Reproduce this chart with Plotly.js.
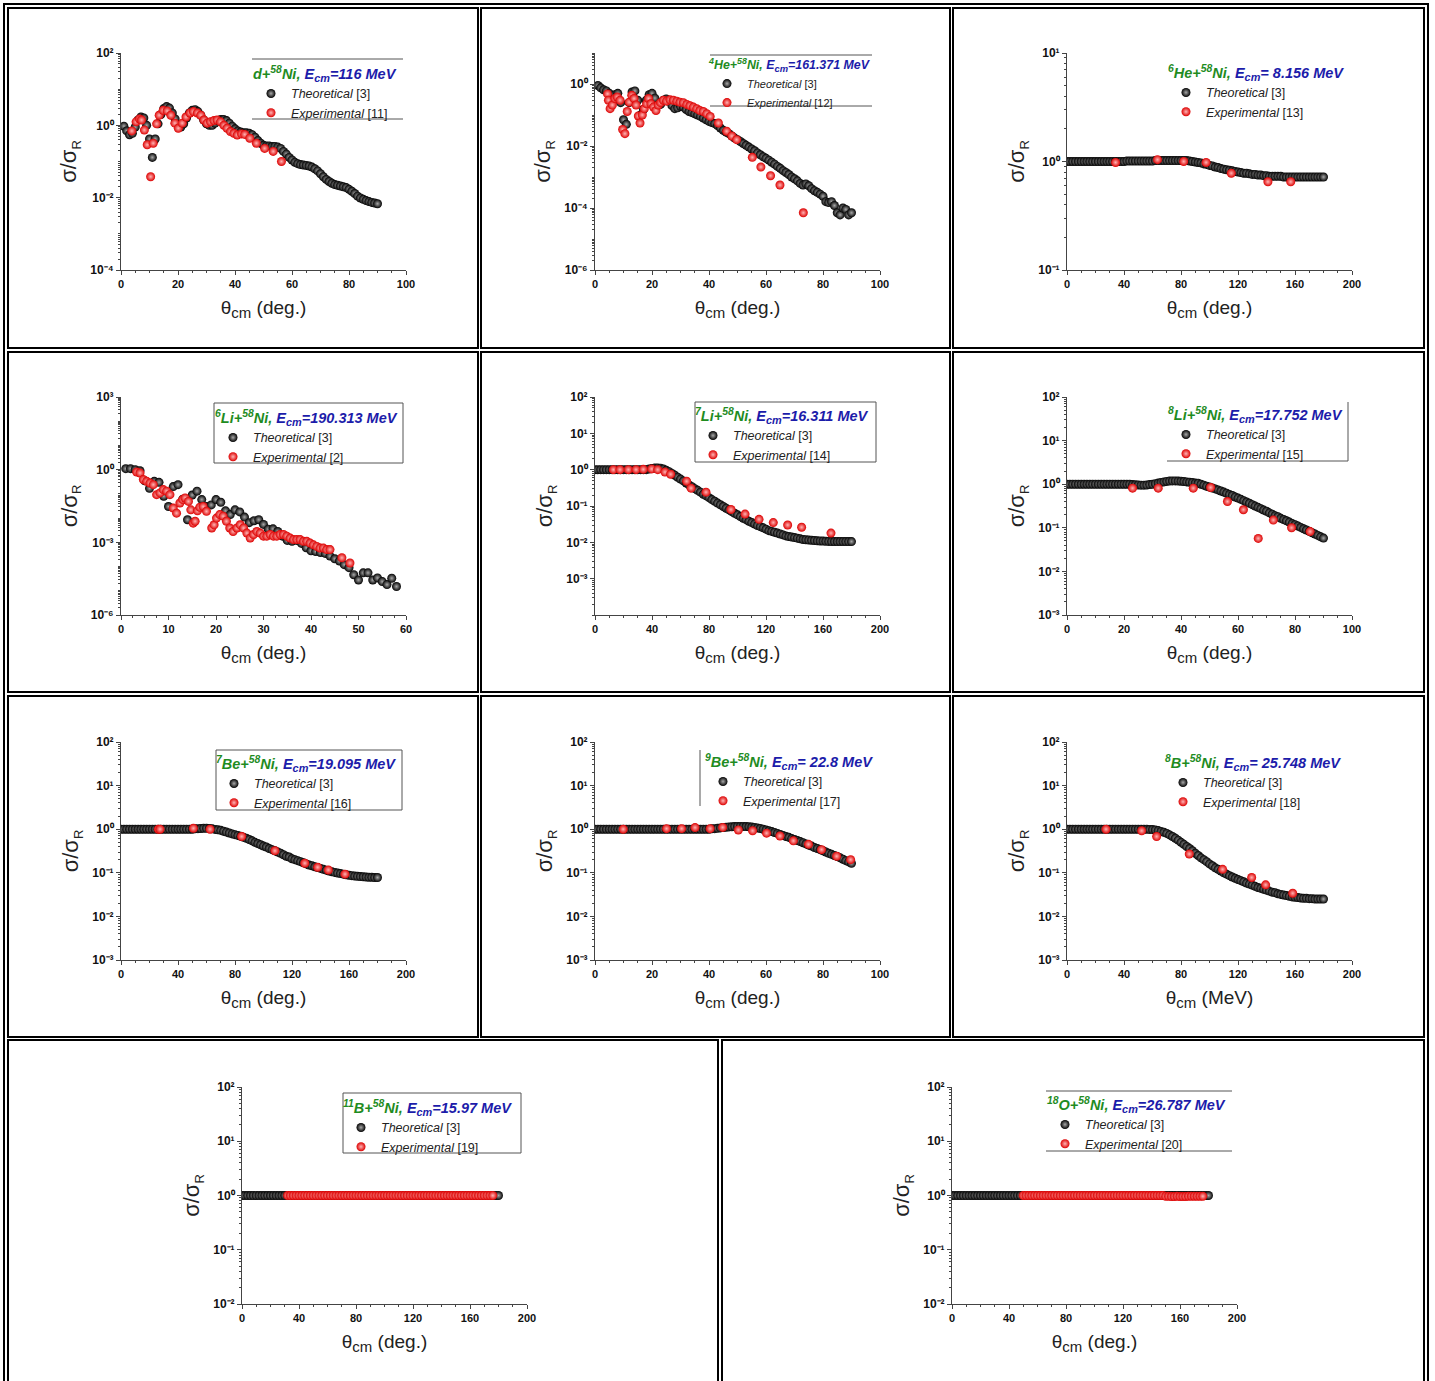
<!DOCTYPE html>
<html><head><meta charset="utf-8">
<script src="https://cdn.plot.ly/plotly-3.0.1.min.js"></script>
<style>html,body{margin:0;padding:0;background:#fff}#chart{width:1435px;height:1381px}</style>
</head><body><div id="chart"></div>
<script>
// ---------------- DATA ----------------
const THETA_1_90 = [1,2,3,4,5,6,7,8,9,10,11,12,13,14,15,16,17,18,19,20,21,22,23,24,25,26,27,28,29,30,31,32,33,34,35,36,37,38,39,40,41,42,43,44,45,46,47,48,49,50,51,52,53,54,55,56,57,58,59,60,61,62,63,64,65,66,67,68,69,70,71,72,73,74,75,76,77,78,79,80,81,82,83,84,85,86,87,88,89,90];
const THETA_0_90 = [0,1,2,3,4,5,6,7,8,9,10,11,12,13,14,15,16,17,18,19,20,21,22,23,24,25,26,27,28,29,30,31,32,33,34,35,36,37,38,39,40,41,42,43,44,45,46,47,48,49,50,51,52,53,54,55,56,57,58,59,60,61,62,63,64,65,66,67,68,69,70,71,72,73,74,75,76,77,78,79,80,81,82,83,84,85,86,87,88,89,90];
const THETA_0_180 = [0,2,4,6,8,10,12,14,16,18,20,22,24,26,28,30,32,34,36,38,40,42,44,46,48,50,52,54,56,58,60,62,64,66,68,70,72,74,76,78,80,82,84,86,88,90,92,94,96,98,100,102,104,106,108,110,112,114,116,118,120,122,124,126,128,130,132,134,136,138,140,142,144,146,148,150,152,154,156,158,160,162,164,166,168,170,172,174,176,178,180];
const THETA_1_58 = [1,2,3,4,5,6,7,8,9,10,11,12,13,14,15,16,17,18,19,20,21,22,23,24,25,26,27,28,29,30,31,32,33,34,35,36,37,38,39,40,41,42,43,44,45,46,47,48,49,50,51,52,53,54,55,56,57,58];

// Panel 1: d + 58Ni
const p1Th = [0.95,0.7,0.55,0.6,0.9,1.4,1.7,1.6,1.0,0.42,
  0.13,0.42,1.1,2.0,2.9,3.3,3.0,2.2,1.5,1.0,
  0.9,1.1,1.6,2.2,2.6,2.7,2.4,1.9,1.4,1.1,
  1.0,1.0,1.15,1.35,1.45,1.45,1.35,1.15,0.95,0.8,
  0.7,0.65,0.62,0.62,0.6,0.55,0.47,0.38,0.32,0.28,
  0.27,0.27,0.26,0.26,0.25,0.23,0.19,0.16,0.13,0.11,
  0.095,0.087,0.082,0.08,0.078,0.075,0.07,0.063,0.055,0.046,
  0.038,0.032,0.028,0.025,0.023,0.022,0.021,0.02,0.019,0.017,
  0.015,0.013,0.011,0.0098,0.009,0.0083,0.0078,0.0074,0.0071,0.0068];
const p1ExX = [3.8,5.3,6.5,7.2,8.2,9.2,10.4,11.3,12.5,13.4,14.8,16.2,17.5,18.9,20.1,21.5,22.8,24.2,25.4,26.8,28,29.1,30.2,31.4,32.6,33.7,34.9,36.1,37.2,38.4,39.6,40.8,42.3,43.4,45.2,47.5,50.4,53.4,56.3];
const p1ExY = [0.7,1.25,1.5,1.4,0.74,0.29,0.038,0.32,1.1,1.9,2.6,2.5,1.9,1.15,0.83,1.15,1.7,2.2,2.4,2.2,1.9,1.4,1.15,1.25,1.35,1.4,1.25,1.0,0.83,0.67,0.6,0.54,0.58,0.56,0.44,0.32,0.23,0.19,0.1];

// Panel 2: 4He + 58Ni
const p2Th = [0.9,0.75,0.65,0.6,0.5,0.35,0.45,0.5,0.25,0.07,
  0.05,0.25,0.55,0.6,0.3,0.1,0.15,0.3,0.45,0.5,
  0.35,0.2,0.22,0.3,0.33,0.28,0.2,0.16,0.17,0.19,
  0.18,0.15,0.13,0.12,0.11,0.1,0.09,0.08,0.07,0.062,
  0.057,0.053,0.046,0.038,0.032,0.028,0.025,0.021,0.018,0.016,
  0.014,0.012,0.0105,0.0092,0.008,0.007,0.006,0.0052,0.0045,0.004,
  0.0035,0.003,0.0026,0.0022,0.0019,0.0016,0.0014,0.0012,0.001,0.00088,
  0.00075,0.00062,0.00055,0.0006,0.00052,0.00042,0.00036,0.00032,0.00028,0.00024,
  0.00016,0.00015,0.00016,0.00012,0.00007,0.00006,0.0001,0.00009,0.00006,0.00007];
const p2ExX = [4.4,4.7,5.3,6.1,7.0,7.8,8.8,9.7,10.5,11.3,12.0,12.9,13.7,14.4,15.2,15.8,16.6,17.3,18.1,18.8,19.6,20.5,21.4,22.2,23.0,24.0,25.1,26.3,27.5,28.7,29.8,31.0,32.2,33.3,34.5,35.7,36.8,38.0,39.2,40.4,43.3,46.2,48.0,49.7,55.2,58.2,61.6,64.9,73.1];
const p2ExY = [0.48,0.3,0.16,0.21,0.34,0.38,0.3,0.034,0.025,0.13,0.26,0.43,0.34,0.21,0.093,0.055,0.1,0.16,0.23,0.34,0.23,0.18,0.14,0.21,0.25,0.3,0.28,0.31,0.3,0.28,0.26,0.25,0.22,0.2,0.18,0.16,0.14,0.13,0.11,0.09,0.055,0.03,0.021,0.016,0.0043,0.0021,0.0011,0.00055,0.00007];

// Panel 3: 6He + 58Ni
const p3Th = [1,1,1,1,1,1,1,1,1,1,1,1,1,1,1,1,1,1,1,1,1,
  1.01,1.01,1.01,1.01,1.01,1.01,1.01,1.01,1.01,1.01,
  1.02,1.02,1.02,1.02,1.02,1.02,1.02,1.02,1.02,1.02,1.02,1.02,
  1.01,1.0,0.99,0.98,0.97,0.95,0.94,0.92,0.91,0.89,
  0.88,0.86,0.85,0.84,0.83,0.82,0.81,0.8,0.79,0.78,
  0.78,0.77,0.76,0.76,0.75,0.75,0.74,0.74,
  0.73,0.73,0.73,0.73,0.73,
  0.72,0.72,0.72,0.72,0.72,0.72,0.72,0.72,0.72,0.72,0.72,0.72,0.72,0.72,0.72];
const p3ExX = [34.1,63.5,81.9,97.6,115.3,141,157];
const p3ExY = [0.98,1.04,1.0,0.98,0.78,0.65,0.65];

// Panel 4: 6Li + 58Ni
const p4Th = [1.1,1.1,1.0,0.9,0.35,0.17,0.33,0.3,0.08,0.03,
  0.2,0.24,0.06,0.0086,0.09,0.13,0.058,0.03,0.035,0.058,
  0.045,0.02,0.014,0.022,0.018,0.011,0.0065,0.0078,0.0086,0.0055,
  0.0035,0.0036,0.0028,0.0018,0.0012,0.0011,0.0012,0.0009,0.0006,0.00045,
  0.00042,0.00038,0.00035,0.00027,0.00021,0.00017,0.00012,0.00009,0.000046,0.000028,
  0.000055,0.000055,0.000028,0.000034,0.000024,0.000018,0.000033,0.000015];
const p4ExX = [3.3,4.0,4.7,5.4,6.1,6.8,7.5,8.2,8.9,9.6,10.3,11.0,11.7,12.4,13.0,13.5,14.2,14.7,15.2,15.6,16.1,16.6,17.3,18.0,19.1,19.6,20.1,20.8,21.5,22.2,22.9,23.6,24.4,25.1,25.8,26.5,27.2,27.9,28.6,29.3,30.0,30.7,31.4,32.1,32.8,33.5,34.2,34.9,35.6,36.3,37.0,37.7,38.4,39.1,39.8,40.5,41.2,41.9,42.6,43.3,44.0,46.5,48.2];
const p4ExY = [0.8,0.73,0.39,0.33,0.28,0.24,0.093,0.11,0.15,0.13,0.093,0.026,0.016,0.042,0.058,0.068,0.049,0.022,0.0062,0.0074,0.02,0.028,0.03,0.019,0.0039,0.0053,0.01,0.014,0.012,0.0074,0.0039,0.0028,0.0039,0.0053,0.0039,0.0024,0.0015,0.0021,0.0028,0.0024,0.0018,0.0018,0.0021,0.0018,0.0018,0.0021,0.0021,0.0018,0.0015,0.0013,0.0013,0.0013,0.0011,0.0011,0.00093,0.00079,0.00068,0.00058,0.00058,0.0005,0.0005,0.00023,0.00014];

// Panel 5: 7Li + 58Ni
const p5Th = [1,1,1,1,1,1,1,1,1,1,1,1,1,1,1,1,1,1,1,
  1.04,1.08,1.11,1.12,1.1,1.04,0.96,0.88,0.79,0.7,
  0.62,0.55,0.49,0.43,0.38,0.34,0.3,0.27,0.24,0.21,
  0.19,0.17,0.15,0.135,0.12,0.108,0.097,0.087,0.078,0.07,
  0.063,0.057,0.051,0.046,0.042,0.038,0.035,0.032,0.029,0.027,
  0.025,0.023,0.021,0.02,0.019,0.018,0.017,0.016,0.015,0.0145,
  0.014,0.0135,0.013,0.0125,0.012,0.0118,0.0116,0.0114,0.0112,0.011,
  0.0109,0.0108,0.0107,0.0106,0.0105,0.0105,0.0105,0.0105,0.0105,0.0105,
  0.0105,0.0105];
const p5ExX = [12.9,17.5,23.4,28.8,33.9,39.8,44.0,49.1,53.1,64.3,67.4,77.9,95.4,105.3,115.1,125.1,135.2,145.0,165.6];
const p5ExY = [1.0,1.0,1.0,1.0,1.02,1.05,1.0,0.86,0.75,0.48,0.31,0.24,0.08,0.06,0.043,0.035,0.03,0.026,0.018];

// Panel 6: 8Li + 58Ni
const p6Th = [1,1,1,1,1,1,1,1,1,1,1,1,1,1,1,1,1,1,1,1,1,1,1,
  0.98,0.97,0.96,0.95,0.95,0.96,0.98,1.0,1.03,1.06,
  1.1,1.13,1.16,1.18,1.19,1.19,1.18,1.17,1.15,1.13,
  1.11,1.09,1.06,1.05,1.0,0.95,0.9,0.86,0.82,0.78,
  0.74,0.7,0.66,0.62,0.58,0.55,0.51,0.48,0.45,0.42,
  0.39,0.365,0.34,0.315,0.295,0.275,0.255,0.24,0.22,0.205,
  0.19,0.18,0.165,0.155,0.145,0.135,0.125,0.118,0.11,0.102,
  0.095,0.089,0.083,0.077,0.072,0.067,0.062,0.058];
const p6ExX = [23,32,44.3,50.4,56.3,61.9,67.1,72.4,78.8,85.3];
const p6ExY = [0.81,0.81,0.81,0.84,0.4,0.26,0.057,0.15,0.1,0.082];

// Panel 7: 7Be + 58Ni
const p7Th = [1,1,1,1,1,1,1,1,1,1,1,1,1,1,1,1,1,1,1,1,1,1,1,1,1,1,
  1.02,1.03,1.04,1.05,1.05,1.04,1.02,0.99,0.97,0.94,
  0.9,0.86,0.82,0.78,0.75,0.72,0.69,0.65,0.62,0.58,
  0.54,0.5,0.47,0.44,0.41,0.39,0.36,0.34,0.32,0.3,
  0.28,0.26,0.24,0.23,0.21,0.2,0.19,0.18,0.17,0.16,
  0.15,0.145,0.138,0.132,0.126,0.12,0.115,0.11,0.106,0.102,
  0.099,0.096,0.093,0.09,0.088,0.086,0.084,0.083,0.082,0.081,
  0.08,0.079,0.079,0.078,0.078];
const p7ExX = [26.2,27.4,50.8,62.5,84.7,108,129,138,145.5,157.2];
const p7ExY = [1.0,1.0,1.05,1.0,0.68,0.32,0.166,0.134,0.116,0.093];

// Panel 8: 9Be + 58Ni
const p8Th = [1,1,1,1,1,1,1,1,1,1,1,1,1,1,1,1,1,1,1,1,1,1,1,1,1,1,1,1,1,1,1,1,1,1,1,1,1,1,1,1,
  1.0,1.02,1.03,1.05,1.07,1.09,1.11,1.13,1.14,1.15,
  1.16,1.16,1.16,1.15,1.14,1.12,1.1,1.07,1.04,1.0,
  0.96,0.92,0.88,0.84,0.8,0.76,0.72,0.68,0.65,0.61,
  0.58,0.55,0.52,0.49,0.46,0.43,0.41,0.38,0.36,0.34,
  0.32,0.3,0.28,0.265,0.25,0.235,0.22,0.205,0.19,0.178,
  0.165];
const p8ExX = [9.9,25.1,30.4,35.1,40.4,44.8,50.3,55.3,60.2,64.9,69.6,74.9,79.5,84.8,89.7];
const p8ExY = [1.0,1.03,1.03,1.09,1.03,1.1,0.96,0.92,0.81,0.7,0.54,0.45,0.34,0.24,0.2];

// Panel 9: 8B + 58Ni
const p9Th = [1,1,1,1,1,1,1,1,1,1,1,1,1,1,1,1,1,1,1,1,1,1,1,1,1,1,1,1,1,
  0.99,0.98,0.96,0.93,0.89,0.85,0.8,0.74,0.68,0.62,
  0.56,0.5,0.45,0.4,0.36,0.32,0.28,0.25,0.22,0.2,
  0.18,0.16,0.145,0.13,0.12,0.11,0.1,0.093,0.086,0.08,
  0.075,0.07,0.066,0.062,0.058,0.055,0.052,0.049,0.046,0.044,
  0.042,0.04,0.038,0.036,0.035,0.033,0.032,0.031,0.03,0.029,
  0.028,0.0275,0.027,0.0265,0.026,0.026,0.0255,0.0255,0.025,0.025,
  0.025,0.025];
const p9ExX = [27.4,52.4,62.9,85.8,109.2,129.6,139.4,158.4];
const p9ExY = [1.0,0.92,0.68,0.27,0.12,0.078,0.053,0.034];

// Panel 10: 11B + 58Ni
const p10Th = [1,1,1,1,1,1,1,1,1,1,1,1,1,1,1,1,1,1,1,1,1,1,1,1,1,1,1,1,1,1,1,1,1,1,1,1,1,1,1,1,1,1,1,1,1,1,1,1,1,1,1,1,1,1,1,1,1,1,1,1,1,1,1,1,1,1,1,1,1,1,1,1,1,1,1,1,1,1,1,1,1,1,1,1,1,1,1,1,1,1,1];
const p10ExX = [32,34,36,38,40,42,44,46,48,50,52,54,56,58,60,62,64,66,68,70,72,74,76,78,80,82,84,86,88,90,92,94,96,98,100,102,104,106,108,110,112,114,116,118,120,122,124,126,128,130,132,134,136,138,140,142,144,146,148,150,152,154,156,158,160,162,164,166,168,170,172,174,176];
const p10ExY = [1,1,1,1,1,1,1,1,1,1,1,1,1,1,1,1,1,1,1,1,1,1,1,1,1,1,1,1,1,1,1,1,1,1,1,1,1,1,1,1,1,1,1,1,1,1,1,1,1,1,1,1,1,1,1,1,1,1,1,1,1,1,1,1,1,1,1,1,1,1,1,1,1];

// Panel 11: 18O + 58Ni
const p11Th = [1,1,1,1,1,1,1,1,1,1,1,1,1,1,1,1,1,1,1,1,1,1,1,1,1,1,1,1,1,1,1,1,1,1,1,1,1,1,1,1,1,1,1,1,1,1,1,1,1,1,1,1,1,1,1,1,1,1,1,1,1,1,1,1,1,1,1,1,1,1,1,1,1,1,1,1,1,1,1,1,1,1,1,1,1,1,1,1,1,1,1];
const p11ExX = [50,52,54,56,58,60,62,64,66,68,70,72,74,76,78,80,82,84,86,88,90,92,94,96,98,100,102,104,106,108,110,112,114,116,118,120,122,124,126,128,130,132,134,136,138,140,142,144,146,148,150,152,154,156,158,160,162,164,166,168,170,172,174,176];
const p11ExY = [1,1,1,1,1,1,1,1,1,1,1,1,1,1,1,1,1,1,1,1,1,1,1,1,1,1,1,1,1,1,1,1,1,1,1,1,1,1,1,1,1,1,1,1,1,1,1,1,1,1,0.97,0.97,0.96,0.96,0.97,0.96,0.96,0.96,0.97,0.97,0.97,0.97,0.97,0.97];

// Legend texts: [projectile mass number, projectile symbol]
const PROJ_A = ['', '4', '6', '6', '7', '8', '7', '9', '8', '11', '18'];
const PROJ_S = ['d', 'He', 'He', 'Li', 'Li', 'Li', 'Be', 'Be', 'B', 'B', 'O'];
const ENERGIES = ['=116 MeV','=161.371 MeV','= 8.156 MeV','=190.313 MeV','=16.311 MeV','=17.752 MeV','=19.095 MeV','= 22.8 MeV','= 25.748 MeV','=15.97 MeV','=26.787 MeV'];
const EXP_REFS = ['[11]','[12]','[13]','[2]','[14]','[15]','[16]','[17]','[18]','[19]','[20]'];
const X_UNITS = ['deg.','deg.','deg.','deg.','deg.','deg.','deg.','deg.','MeV','deg.','deg.'];

// ---------------- LAYOUT ----------------
const W = 1435, H = 1381;
const FONT = 'Arial, "Liberation Sans", Helvetica, sans-serif';
const GREEN = '#1f8c1f', BLUE = '#1c1caa';
const fx = p => p / W, fy = p => 1 - p / H;
const SUP = {'-':'⁻','0':'⁰','1':'¹','2':'²','3':'³','4':'⁴','5':'⁵','6':'⁶','7':'⁷','8':'⁸','9':'⁹'};
const supStr = n => String(n).split('').map(c => SUP[c]).join('');
const sup = (t, s) => '<sup><span style="font-size:' + s + 'px">' + t + '</span></sup>';
const sub = (t, s) => '<sub><span style="font-size:' + s + 'px">' + t + '</span></sub>';

const series = [
  [THETA_1_90, p1Th, p1ExX, p1ExY],
  [THETA_1_90, p2Th, p2ExX, p2ExY],
  [THETA_0_180, p3Th, p3ExX, p3ExY],
  [THETA_1_58, p4Th, p4ExX, p4ExY],
  [THETA_0_180, p5Th, p5ExX, p5ExY],
  [THETA_0_90, p6Th, p6ExX, p6ExY],
  [THETA_0_180, p7Th, p7ExX, p7ExY],
  [THETA_0_90, p8Th, p8ExX, p8ExY],
  [THETA_0_180, p9Th, p9ExX, p9ExY],
  [THETA_0_180, p10Th, p10ExX, p10ExY],
  [THETA_0_180, p11Th, p11ExX, p11ExY]
];

// geometry / style per panel
const geo = [
  {xp:[121,406], yp:[53,270],  xmax:100, xd:20, yr:[-4,2], ylab:[-4,-2,0,2],          leg:[251,60], fs:12.5, ts:14.5},
  {xp:[595,880], yp:[53,270],  xmax:100, xd:20, yr:[-6,1], ylab:[-6,-4,-2,0],         leg:[707,53], fs:11, ts:12.4},
  {xp:[1067,1352], yp:[53,270], xmax:200, xd:40, yr:[-1,1], ylab:[-1,0,1],             leg:[1166,59], fs:12.5, ts:14.5},
  {xp:[121,406], yp:[397,615], xmax:60,  xd:10, yr:[-6,3], ylab:[-6,-3,0,3],          leg:[213,404], fs:12.5, ts:14.5},
  {xp:[595,880], yp:[397,615], xmax:200, xd:40, yr:[-4,2], ylab:[-3,-2,-1,0,1,2],     leg:[693,402], fs:12.5, ts:14.5},
  {xp:[1067,1352], yp:[397,615], xmax:100, xd:20, yr:[-3,2], ylab:[-3,-2,-1,0,1,2],   leg:[1166,401], fs:12.5, ts:14.5},
  {xp:[121,406], yp:[742,960], xmax:200, xd:40, yr:[-3,2], ylab:[-3,-2,-1,0,1,2],     leg:[214,750], fs:12.5, ts:14.5},
  {xp:[595,880], yp:[742,960], xmax:100, xd:20, yr:[-3,2], ylab:[-3,-2,-1,0,1,2],     leg:[703,748], fs:12.5, ts:14.5},
  {xp:[1067,1352], yp:[742,960], xmax:200, xd:40, yr:[-3,2], ylab:[-3,-2,-1,0,1,2],   leg:[1163,749], fs:12.5, ts:14.5},
  {xp:[242,527], yp:[1087,1304], xmax:200, xd:40, yr:[-2,2], ylab:[-2,-1,0,1,2],      leg:[341,1094], fs:12.5, ts:14.5},
  {xp:[952,1237], yp:[1087,1304], xmax:200, xd:40, yr:[-2,2], ylab:[-2,-1,0,1,2],     leg:[1045,1091], fs:12.5, ts:14.5}
];

const traces = [];
const layout = {
  width: W, height: H, autosize: false,
  margin: {l:0, r:0, t:0, b:0},
  paper_bgcolor: '#ffffff', plot_bgcolor: 'rgba(0,0,0,0)',
  font: {family: FONT, color: '#111'},
  showlegend: true,
  shapes: []
};

const thMarker = {symbol:'circle', size:9, color:'#000000', gradient:{type:'radial', color:'#a8a8a8'}, line:{width:0}};
const exMarker = {symbol:'circle', size:9, color:'#dd0000', gradient:{type:'radial', color:'#ffb4b4'}, line:{width:0}};

geo.forEach((g, i) => {
  const k = i + 1;
  const sx = k === 1 ? '' : String(k);
  const legName = 'legend' + sx;
  const [tx, ty, ex, ey] = series[i];

  traces.push({type:'scatter', mode:'markers', x:tx, y:ty, xaxis:'x'+sx, yaxis:'y'+sx,
    name:'<i>Theoretical</i> [3]', legend:legName, marker:thMarker, hoverinfo:'skip'});
  traces.push({type:'scatter', mode:'markers', x:ex, y:ey, xaxis:'x'+sx, yaxis:'y'+sx,
    name:'<i>Experimental</i> ' + EXP_REFS[i], legend:legName, marker:exMarker, hoverinfo:'skip'});

  // y ticks: labelled decades as major ticks, all other decades and 2..9 as minor ticks
  const tv = [], tt = [], mv = [];
  for (let d = g.yr[0]; d <= g.yr[1]; d++) {
    if (g.ylab.includes(d)) { tv.push(Math.pow(10, d)); tt.push('10' + supStr(d)); }
    else mv.push(Math.pow(10, d));
    if (d < g.yr[1]) for (let m = 2; m <= 9; m++) mv.push(m * Math.pow(10, d));
  }

  const ss = Math.round(g.ts * 0.72 * 10) / 10;
  const nuc = (PROJ_A[i] ? sup(PROJ_A[i], ss) : '') + PROJ_S[i] + '+' + sup('58', ss) + 'Ni,';
  const legTitle = '<b><i><span style="color:' + GREEN + '">' + nuc + '</span> <span style="color:' + BLUE + '">E' + sub('cm', ss + 0.5) + ENERGIES[i] + '</span></i></b>';

  layout['xaxis' + sx] = {
    domain:[fx(g.xp[0]), fx(g.xp[1])], anchor:'y'+sx, range:[0, g.xmax],
    tickmode:'linear', tick0:0, dtick:g.xd,
    showline:true, linecolor:'#444', linewidth:1, mirror:false,
    ticks:'outside', ticklen:4, tickwidth:1, tickcolor:'#444',
    minor:{dtick:g.xd/4, tick0:0, ticks:'outside', ticklen:2, tickcolor:'#444', tickwidth:1},
    showgrid:false, zeroline:false, automargin:false,
    tickfont:{family:FONT, size:11, color:'#111', weight:'bold'},
    title:{text:'θ' + sub('cm', 15) + ' (' + X_UNITS[i] + ')', font:{family:FONT, size:19, color:'#222'}, standoff:11}
  };
  layout['yaxis' + sx] = {
    domain:[fy(g.yp[1]), fy(g.yp[0])], anchor:'x'+sx, type:'log', range:g.yr,
    tickmode:'array', tickvals:tv, ticktext:tt,
    showline:true, linecolor:'#444', linewidth:1,
    ticks:'outside', ticklen:4, tickwidth:1, tickcolor:'#444',
    minor:{tickmode:'array', tickvals:mv, ticks:'outside', ticklen:2, tickcolor:'#444', tickwidth:1},
    showgrid:false, zeroline:false, automargin:false,
    tickfont:{family:FONT, size:12, color:'#111', weight:'bold'},
    title:{text:'σ/σ' + sub('R', 13), font:{family:FONT, size:22, color:'#222'}, standoff:7}
  };

  layout[legName] = {
    x: fx(g.leg[0]), y: fy(g.leg[1]), xref:'paper', yref:'paper',
    xanchor:'left', yanchor:'top',
    bgcolor:'rgba(0,0,0,0)', borderwidth:0,
    font:{family:FONT, size:g.fs, color:'#222'},
    title:{text:legTitle, font:{family:FONT, size:g.ts}, side:'top'},
    tracegroupgap:0, itemwidth:30, orientation:'v'
  };
});

// cell frames (table look)
const cells = [
  [8,8,478,348],[481,8,950,348],[953,8,1424,348],
  [8,352,478,692],[481,352,950,692],[953,352,1424,692],
  [8,696,478,1037],[481,696,950,1037],[953,696,1424,1037],
  [8,1040,718,1398],[722,1040,1424,1398]
];
layout.shapes.push({type:'rect', xref:'paper', yref:'paper', x0:fx(4), x1:fx(1428), y0:fy(1400), y1:fy(4), line:{color:'#000', width:2}});
cells.forEach(c => layout.shapes.push({type:'rect', xref:'paper', yref:'paper', x0:fx(c[0]), x1:fx(c[2]), y0:fy(c[3]), y1:fy(c[1]), line:{color:'#000', width:2}}));

// legend frame pieces
const legLines = [
  [252,59,403,59],[252,119,403,119],
  [710,55,872,55],[710,106,872,106],
  [1348,402,1348,461],[1167,461,1348,461],
  [700,750,700,806],
  [1046,1091,1232,1091],[1046,1151,1232,1151]
];
legLines.forEach(l => layout.shapes.push({type:'line', xref:'paper', yref:'paper', x0:fx(l[0]), y0:fy(l[1]), x1:fx(l[2]), y1:fy(l[3]), line:{color:'#555', width:1}}));
const legBoxes = [[214,403,403,463],[695,402,876,462],[216,750,402,810],[343,1093,521,1153]];
legBoxes.forEach(b => layout.shapes.push({type:'rect', xref:'paper', yref:'paper', x0:fx(b[0]), x1:fx(b[2]), y0:fy(b[3]), y1:fy(b[1]), line:{color:'#555', width:1}}));

Plotly.newPlot('chart', traces, layout, {staticPlot:true, displayModeBar:false});
</script>
</body></html>
